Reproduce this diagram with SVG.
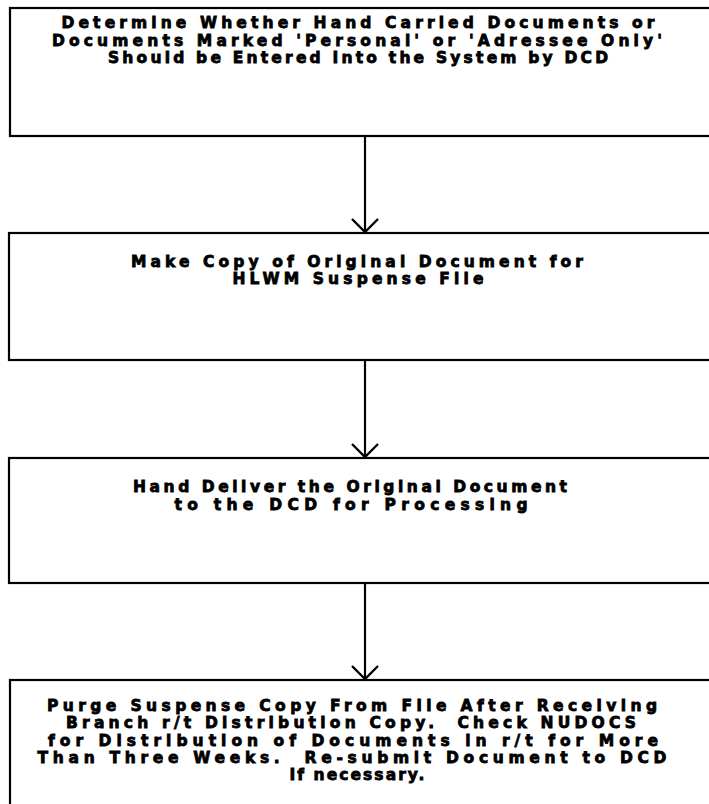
<svg xmlns="http://www.w3.org/2000/svg" width="709" height="804" viewBox="0 0 709 804">
<style>
.box{fill:#fff;stroke:#000;stroke-width:2.2}
.t{font-family:"DejaVu Sans","Liberation Sans",sans-serif;font-weight:bold;font-size:15.5px;fill:#000;stroke:#000;stroke-width:0.8;text-anchor:middle;white-space:pre}
.c{fill:none;stroke:#000;stroke-width:2.2}
</style>
<defs>
<marker id="v" markerWidth="30" markerHeight="30" refX="14" refY="15" orient="auto" markerUnits="userSpaceOnUse">
<path d="M1,2 L14,15 L1,28" fill="none" stroke="#000" stroke-width="2.4"/>
</marker>
</defs>
<rect width="709" height="804" fill="#fff"/>
<g id="n1">
<rect class="box" x="10" y="8" width="715" height="128"/>
<text class="t" x="358" y="28" textLength="593" lengthAdjust="spacing">Determine Whether Hand Carried Documents or</text>
<text class="t" x="357" y="46" textLength="610" lengthAdjust="spacing">Documents Marked 'Personal' or 'Adressee Only'</text>
<text class="t" x="358" y="63" textLength="500" lengthAdjust="spacing">Should be Entered Into the System by DCD</text>
</g>
<g id="n2">
<rect class="box" x="9" y="233" width="716" height="127"/>
<text class="t" x="357" y="267" textLength="452" lengthAdjust="spacing">Make Copy of Original Document for</text>
<text class="t" x="358" y="284" textLength="251" lengthAdjust="spacing">HLWM Suspense File</text>
</g>
<g id="n3">
<rect class="box" x="9" y="458" width="716" height="125"/>
<text class="t" x="350" y="492" textLength="434" lengthAdjust="spacing">Hand Deliver the Original Document</text>
<text class="t" x="351" y="510" textLength="353" lengthAdjust="spacing">to the DCD for Processing</text>
</g>
<g id="n4">
<rect class="box" x="10" y="680" width="715" height="140"/>
<text class="t" x="352" y="711" textLength="610" lengthAdjust="spacing">Purge Suspense Copy From File After Receiving</text>
<text class="t" x="351" y="728" textLength="570" lengthAdjust="spacing" xml:space="preserve">Branch r/t Distribution Copy.  Check NUDOCS</text>
<text class="t" x="353" y="746" textLength="610" lengthAdjust="spacing">for Distribution of Documents in r/t for More</text>
<text class="t" x="352" y="763" textLength="629" lengthAdjust="spacing" xml:space="preserve">Than Three Weeks.  Re-submit Document to DCD</text>
<text class="t" x="357" y="780" textLength="135" lengthAdjust="spacing">If necessary.</text>
</g>
<g id="connectors">
<line class="c" x1="365" y1="136" x2="365" y2="232" marker-end="url(#v)"/>
<line class="c" x1="365" y1="360" x2="365" y2="457" marker-end="url(#v)"/>
<line class="c" x1="365" y1="583" x2="365" y2="679" marker-end="url(#v)"/>
</g>
</svg>
